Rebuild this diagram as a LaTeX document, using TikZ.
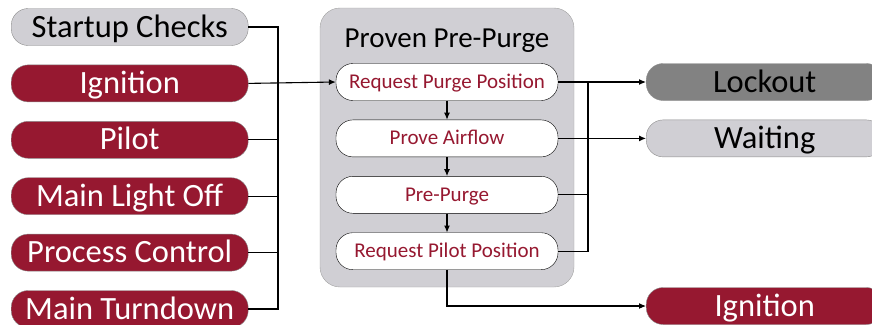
\documentclass[tikz,border=0pt]{standalone}
\usepackage{fontspec}
\setmainfont{Carlito}
\usepackage{tikz}
\usetikzlibrary{arrows.meta, positioning}
\usepackage{xcolor}
\definecolor{cRed}{HTML}{961830}
\definecolor{cGrey}{HTML}{D0CFD4}
\definecolor{cDark}{HTML}{828282}
\definecolor{cEdge}{HTML}{8C8C8C}

\begin{document}
\begin{tikzpicture}[x=1pt, y=-1pt,
  state/.style={draw=cEdge, rounded corners=17pt, minimum width=237pt, minimum height=37pt, inner sep=0pt, text height=25pt, text depth=5pt, font=\fontsize{32.5}{32.5}\selectfont},
  redstate/.style={state, fill=cRed, text=white},
  greystate/.style={state, fill=cGrey, text=black},
  substep/.style={draw, fill=white, rounded corners=17pt, minimum width=222pt, minimum height=37pt, inner sep=0pt, text height=17pt, text depth=4pt, text=cRed, font=\fontsize{21}{21}\selectfont},
  group/.style={draw=cEdge!80, fill=cGrey, rounded corners=20pt, minimum width=254pt, minimum height=279pt},
  wire/.style={line width=1.1pt},
  arr/.style={-{Latex[length=7pt, width=6pt]}, line width=1.1pt}
]
\useasboundingbox (0,0) rectangle (872,324);

% incoming states
\node[greystate, anchor=west] (startup) at (11,27) {Startup Checks};
\node[redstate, below=19pt of startup] (ignin) {Ignition};
\node[redstate, below=19pt of ignin] (pilot) {Pilot};
\node[redstate, below=19pt of pilot] (mlo) {Main Light Off};
\node[redstate, below=19pt of mlo] (proc) {Process Control};
\node[redstate, below=19pt of proc] (turndown) {Main Turndown};

% the pre-purge state and its steps
\node[group] (prepurge) at (447,147.5) {};
\node[font=\fontsize{29}{29}\selectfont, anchor=base] (pptitle) at (447,47) {Proven Pre-Purge};
\node[substep] (purgepos) at (447,82) {Request Purge Position};
\node[substep, below=19pt of purgepos] (airflow) {Prove Airflow};
\node[substep, below=19pt of airflow] (purge) {Pre-Purge};
\node[substep, below=19pt of purge] (pilotpos) {Request Pilot Position};

% outgoing states
\node[greystate, fill=cDark, anchor=west] (lockout) at (646,82) {Lockout};
\node[greystate, below=19pt of lockout] (waiting) {Waiting};
\node[redstate, anchor=west] (ignout) at (646,306) {Ignition};

\coordinate (lbus) at (278,0);
\coordinate (rbus) at (588,0);

% left bus
\draw[wire] (startup.east) -- (startup.east -| lbus) -- (turndown.east -| lbus) -- (turndown.east);
\foreach \n in {pilot, mlo, proc}
  \draw[wire] (\n.east) -- (\n.east -| lbus);
\draw[arr] (ignin.east) -- (purgepos.west);

% steps
\draw[arr] (purgepos) -- (airflow);
\draw[arr] (airflow) -- (purge);
\draw[arr] (purge) -- (pilotpos);

% right bus
\draw[wire] (purgepos.east) -- (purgepos.east -| rbus) -- (pilotpos.east -| rbus) -- (pilotpos.east);
\draw[wire] (purge.east) -- (purge.east -| rbus);
\draw[arr] (purgepos.east -| rbus) -- (lockout.west);
\draw[arr] (airflow.east) -- (waiting.west);
\draw[arr] (pilotpos.south) |- (ignout.west);
\end{tikzpicture}
\end{document}
